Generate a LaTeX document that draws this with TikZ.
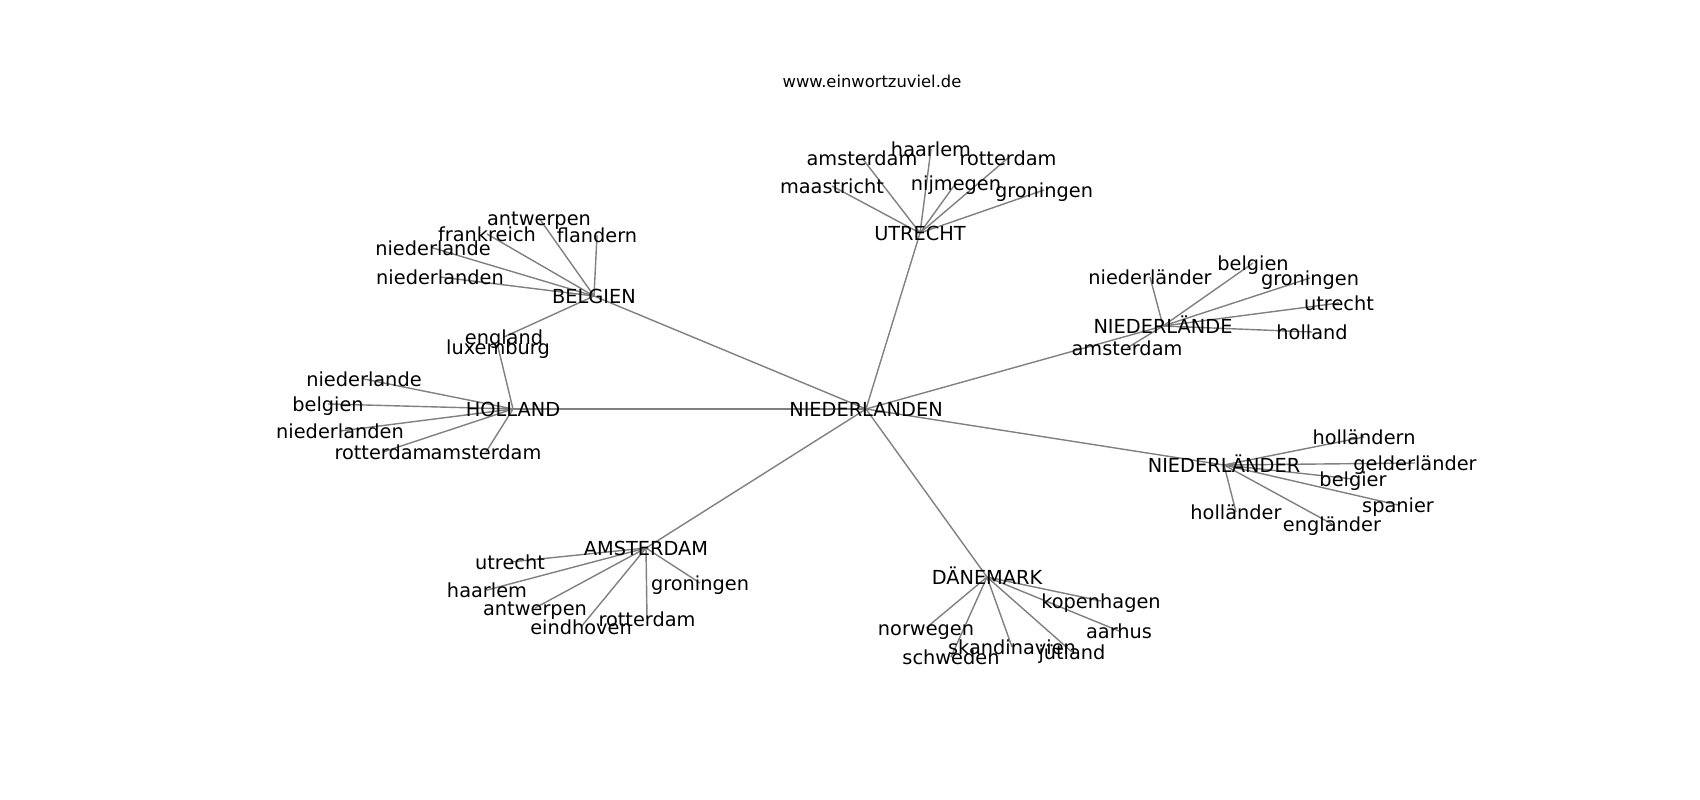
\documentclass[tikz,border=0pt]{standalone}
\usepackage{fontspec}
\setmainfont{DejaVu Sans}
\usepackage{tikz}
\usetikzlibrary{backgrounds}
\tikzset{word/.style={inner sep=0pt,text height=0.69em,text depth=0.27em,font=\fontsize{5.5}{6.6}\selectfont},
  title/.style={inner sep=0pt,font=\fontsize{4.65}{5.6}\selectfont},
  edge/.style={draw=gray,line width=0.4pt}}
\newcommand{\spokes}[2]{\foreach \k in {#2} {\draw[edge] (#1.center)--(\k.center);}}

\begin{document}
\begin{tikzpicture}[x=0.01cm,y=-0.01cm]
  \useasboundingbox (0,0) rectangle (1700,800);
  \node[title] (www) at (872,81) {www.einwortzuviel.de};

  \node[word] (nl) at (866,409) {NIEDERLANDEN};
  \node[word] (ut) at (920,233) {UTRECHT};
  \node[word] (be) at (594,296) {BELGIEN};
  \node[word] (ho) at (513,409) {HOLLAND};
  \node[word] (nle) at (1163,326) {NIEDERLÄNDE};
  \node[word] (nlr) at (1224,465) {NIEDERLÄNDER};
  \node[word] (am) at (646,548) {AMSTERDAM};
  \node[word] (dk) at (987,577) {DÄNEMARK};

  % utrecht
  \node[word] (ut-ams) at (862,158) {amsterdam};
  \node[word] (ut-haa) at (931,149) {haarlem};
  \node[word] (ut-rot) at (1008,158) {rotterdam};
  \node[word] (ut-maa) at (832,186) {maastricht};
  \node[word] (ut-nij) at (956,183) {nijmegen};
  \node[word] (ut-gro) at (1044,190) {groningen};

  % belgien
  \node[word] (be-ant) at (539,218) {antwerpen};
  \node[word] (be-fra) at (487,234) {frankreich};
  \node[word] (be-fla) at (597,235) {flandern};
  \node[word] (be-nde) at (433,248) {niederlande};
  \node[word] (be-nden) at (440,277) {niederlanden};
  \node[word] (be-eng) at (504,337) {england};

  % holland
  \node[word] (ho-lux) at (498,347) {luxemburg};
  \node[word] (ho-nde) at (364,379) {niederlande};
  \node[word] (ho-bel) at (328,404) {belgien};
  \node[word] (ho-nden) at (340,431) {niederlanden};
  \node[word] (ho-rot) at (383,452) {rotterdam};
  \node[word] (ho-ams) at (486,452) {amsterdam};

  % niederlände
  \node[word] (nle-nr) at (1150,277) {niederländer};
  \node[word] (nle-bel) at (1253,263) {belgien};
  \node[word] (nle-gro) at (1310,278) {groningen};
  \node[word] (nle-utr) at (1339,303) {utrecht};
  \node[word] (nle-hol) at (1312,332) {holland};
  \node[word] (nle-ams) at (1127,348) {amsterdam};

  % niederländer
  \node[word] (nlr-hn) at (1364,437) {holländern};
  \node[word] (nlr-gel) at (1415,463) {gelderländer};
  \node[word] (nlr-bel) at (1353,479) {belgier};
  \node[word] (nlr-spa) at (1398,505) {spanier};
  \node[word] (nlr-hol) at (1236,512) {holländer};
  \node[word] (nlr-eng) at (1332,524) {engländer};

  % amsterdam
  \node[word] (am-utr) at (510,562) {utrecht};
  \node[word] (am-haa) at (487,590) {haarlem};
  \node[word] (am-ant) at (535,608) {antwerpen};
  \node[word] (am-ein) at (581,627) {eindhoven};
  \node[word] (am-rot) at (647,619) {rotterdam};
  \node[word] (am-gro) at (700,583) {groningen};

  % dänemark
  \node[word] (dk-kop) at (1101,601) {kopenhagen};
  \node[word] (dk-nor) at (926,628) {norwegen};
  \node[word] (dk-aar) at (1119,631) {aarhus};
  \node[word] (dk-ska) at (1012,647) {skandinavien};
  \node[word] (dk-jut) at (1072,652) {jütland};
  \node[word] (dk-sch) at (951,657) {schweden};

  \begin{pgfonlayer}{background}
    \spokes{nl}{ut,be,ho,nle,nlr,am,dk}
    \spokes{ut}{ut-ams,ut-haa,ut-rot,ut-maa,ut-nij,ut-gro}
    \spokes{be}{be-ant,be-fra,be-fla,be-nde,be-nden,be-eng}
    \spokes{ho}{ho-lux,ho-nde,ho-bel,ho-nden,ho-rot,ho-ams}
    \spokes{nle}{nle-nr,nle-bel,nle-gro,nle-utr,nle-hol,nle-ams}
    \spokes{nlr}{nlr-hn,nlr-gel,nlr-bel,nlr-spa,nlr-hol,nlr-eng}
    \spokes{am}{am-utr,am-haa,am-ant,am-ein,am-rot,am-gro}
    \spokes{dk}{dk-kop,dk-nor,dk-aar,dk-ska,dk-jut,dk-sch}
  \end{pgfonlayer}
\end{tikzpicture}
\end{document}
